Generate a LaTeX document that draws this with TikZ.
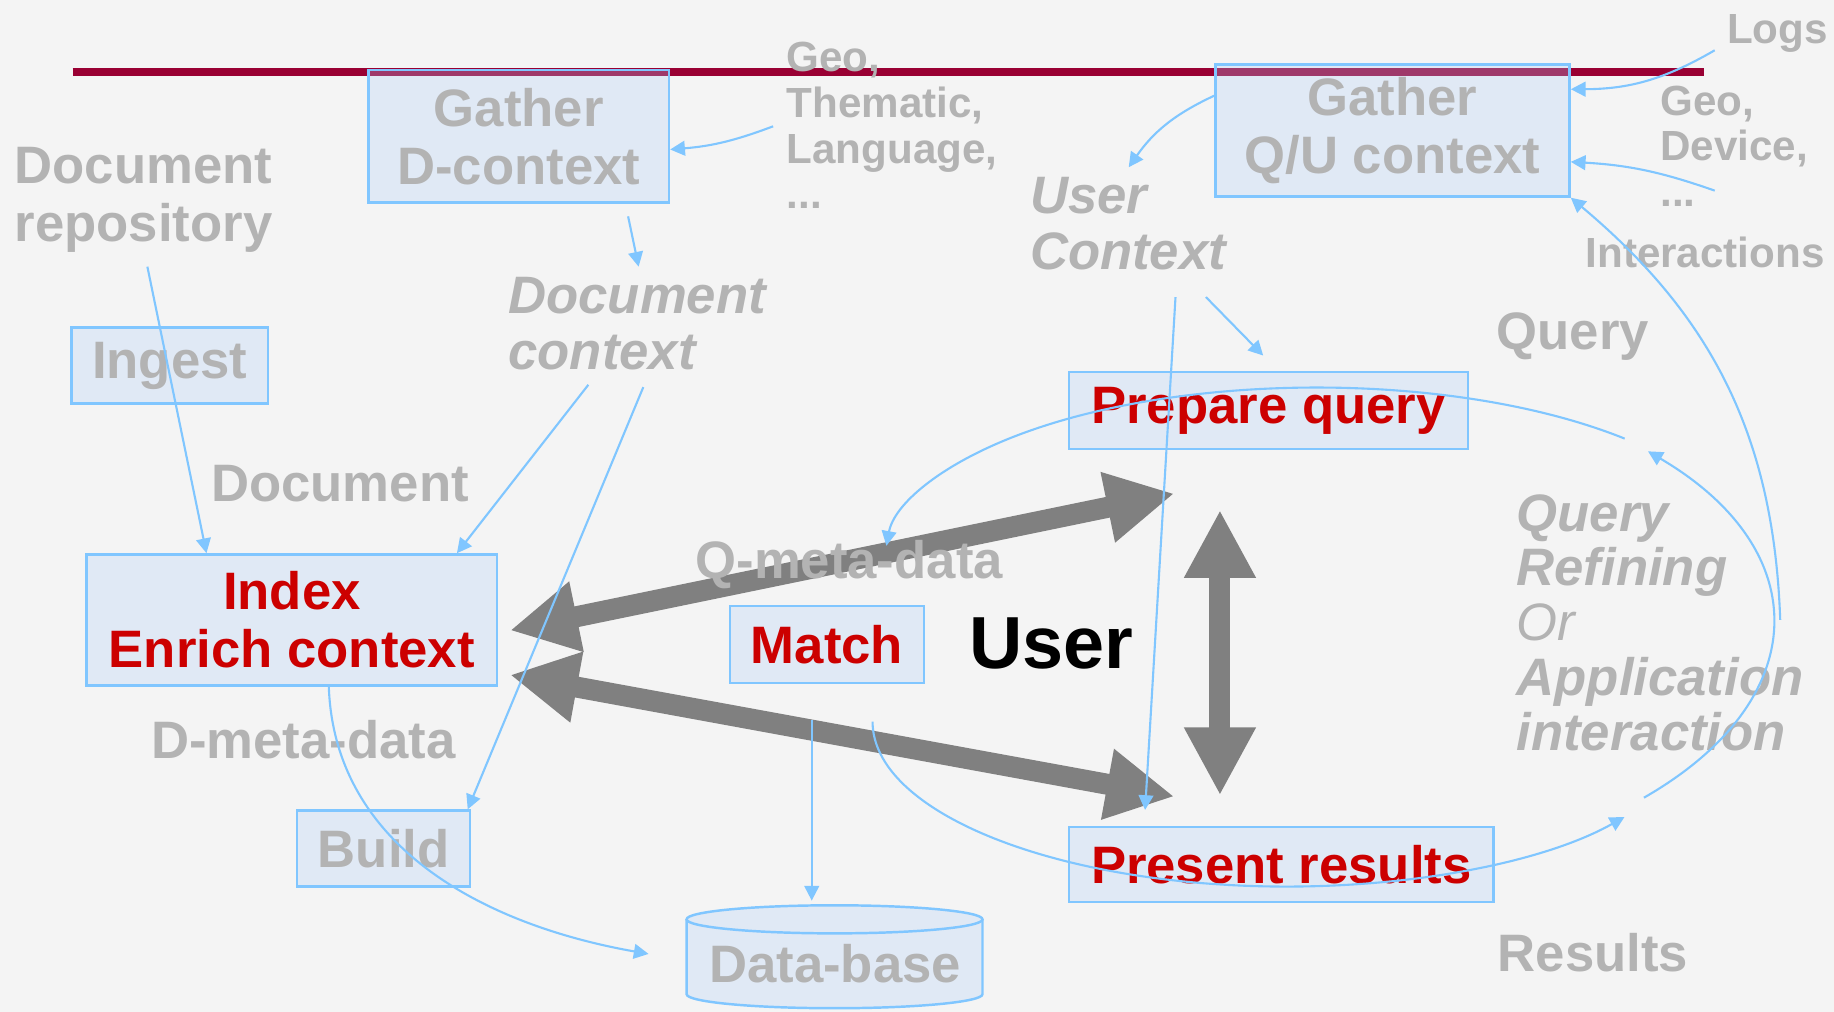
\documentclass[tikz,border=0pt]{standalone}
\usepackage{fontspec}
\setmainfont{Liberation Sans}
\usepackage{xcolor}
\usetikzlibrary{arrows.meta}

\definecolor{bgcol}{RGB}{244,244,244}
\definecolor{barred}{RGB}{153,0,51}
\definecolor{linkblue}{RGB}{128,198,255}
\definecolor{boxblue}{RGB}{175,208,250}
\definecolor{labelgray}{RGB}{179,179,179}
\definecolor{textred}{RGB}{204,0,0}
\definecolor{arrowgray}{RGB}{128,128,128}

\begin{document}
\begin{tikzpicture}[x = 0.011696cm, y = 0.011696cm,
		box/.style = {draw = linkblue, line width = 0.7pt, fill = boxblue, fill opacity = 0.28, text opacity = 1, inner sep = 0, align = center, text = labelgray, font = \fontsize{15}{16.5}\selectfont\bfseries},
		redbox/.style = {box, text = textred},
		lbl/.style = {inner sep = 0, anchor = north west, align = left, text = labelgray, font = \fontsize{15}{16.5}\selectfont\bfseries},
		lblsmall/.style = {lbl, font = \fontsize{12}{13}\selectfont\bfseries},
		lblit/.style = {lbl, font = \fontsize{15}{16}\selectfont\bfseries\itshape},
		link/.style = {draw = linkblue, line width = 0.6pt, -{Triangle[length = 4.2pt, width = 4.2pt]}},
		bigarrow/.style = {draw = arrowgray, line width = 0.21cm, {Triangle[length = 0.68cm, width = 0.67cm]}-{Triangle[length = 0.68cm, width = 0.67cm]}}]
			\fill [bgcol] (0,0) rectangle (1568,865);
			\useasboundingbox (0,0) rectangle (1568,865);

			\draw [barred, line width = 0.075cm] (62,803.4) -- (1457,803.4);

			\begin{scope}
				\node [box, minimum width = 3.006cm, minimum height = 1.322cm] (gatherd) at (443.5,748.5) {Gather\\D-context};
				\node [box, minimum width = 3.544cm, minimum height = 1.322cm] (gatherqu) at (1190.5,753.5) {Gather\\Q/U context};
				\node [box, minimum width = 1.965cm, minimum height = 0.760cm] (ingest) at (145,552.5) {Ingest};
				\node [redbox, minimum width = 4.105cm, minimum height = 1.310cm] (index) at (249.5,335) {Index\\Enrich context};
				\node [box, minimum width = 1.731cm, minimum height = 0.760cm] (build) at (328,139.5) {Build};
				\node [redbox, minimum width = 1.942cm, minimum height = 0.772cm] (match) at (707,314) {Match};
				\node [redbox, minimum width = 3.988cm, minimum height = 0.772cm] (prepare) at (1084.5,514) {Prepare query};
				\node [redbox, minimum width = 4.246cm, minimum height = 0.749cm] (present) at (1095.5,126) {Present results};
			\end{scope}

			\begin{scope}
				\fill [boxblue, opacity = 0.28] (587,79) -- (587,15) arc [start angle = 180, end angle = 360, x radius = 126.5, y radius = 12] -- (840,79) arc [start angle = 0, end angle = 180, x radius = 126.5, y radius = 12];
				\draw [linkblue, line width = 0.7pt] (587,79) -- (587,15) arc [start angle = 180, end angle = 360, x radius = 126.5, y radius = 12] -- (840,79);
				\draw [linkblue, line width = 0.7pt] (713.5,79) ellipse [x radius = 126.5, y radius = 12];
				\node [inner sep = 0, text = labelgray, font = \fontsize{15}{16.5}\selectfont\bfseries] (db) at (714,41) {Data-base};
			\end{scope}

			\coordinate (idxq) at (436,326);
			\coordinate (userq) at (1004,443);
			\coordinate (idxr) at (436,288);
			\coordinate (userr) at (1004,184);
			\coordinate (usertop) at (1043,429);
			\coordinate (userbot) at (1043,185);

			\foreach \a/\b in {idxq/userq, idxr/userr, usertop/userbot}
			{
				\draw [bigarrow] (\a) -- (\b);
			}

			\begin{scope}
				\node [lbl] (docrepo) at (12,739.6) {Document\\repository};
				\node [lblsmall] (geoleft) at (672,829.4) {Geo,\\Thematic,\\Language,\\...};
				\node [lblsmall] (logs) at (1476,853.6) {Logs};
				\node [lblsmall] (georight) at (1419,792.3) {Geo,\\Device,\\...};
				\node [lblsmall] (interact) at (1355,663.2) {Interactions};
				\node [lblit] (usercontext) at (880,714) {User\\Context};
				\node [lblit] (doccontext) at (434,628.5) {Document\\context};
				\node [lbl] (document) at (180,468) {Document};
				\node [lbl] (dmeta) at (128.5,249.4) {D-meta-data};
				\node [lbl] (qmeta) at (594,403.3) {Q-meta-data};
				\node [lbl, text = black, font = \fontsize{21}{23}\selectfont\bfseries] (user) at (828,337.8) {User};
				\node [lbl] (query) at (1279,598) {Query};
				\node [lbl] (results) at (1280,67.3) {Results};
				\node [lblit, font = \fontsize{15}{15.6}\selectfont\bfseries\itshape] (refine) at (1296,443) {Query\\Refining\\{\mdseries Or}\\Application\\interaction};
			\end{scope}

			\coordinate (repoout) at (126,637);
			\coordinate (ctxl) at (503,536);
			\coordinate (ctxr) at (550,534);
			\coordinate (gathdout) at (537,680);
			\coordinate (ctxin) at (546,637);
			\coordinate (geoout) at (661,757);
			\coordinate (ucin) at (965,722);
			\coordinate (logsout) at (1466,822);
			\coordinate (geo2out) at (1466,702);
			\coordinate (refout) at (1522,335);
			\coordinate (ucdown) at (1005,611);
			\coordinate (ucprep) at (1031,611);
			\coordinate (presin) at (979,172.5);
			\coordinate (prepin) at (1080,561);
			\coordinate (matchout) at (746,248);
			\coordinate (dbleft) at (554.5,49.4);
			\coordinate (matchdown) at (694,249);
			\coordinate (dbtop) at (694,95);
			\coordinate (refinelow) at (1405.5,183);
			\coordinate (prepout) at (1389,490);

			\begin{scope}
				\draw [link] (repoout) -- (index.142);
				\draw [link] (ctxl) -- (index.22);
				\draw [link] (ctxr) -- (build.25);
				\draw [link] (gathdout) -- (ctxin);
				\draw [link] (geoout) to [bend left = 8] (gatherd.-5);
				\draw [link] (gatherqu.169) to [out = 205, in = 55] (ucin);
				\draw [link] (logsout) to [bend left = 15] (gatherqu.13);
				\draw [link] (geo2out) to [bend right = 8] (gatherqu.-10);
				\draw [link] (refout) to [out = 92, in = -40] (gatherqu.south east);
				\draw [link] (ucdown) -- (presin);
				\draw [link] (ucprep) -- (prepin);
				\draw [link] (index.-61) to [out = -88, in = 170] (dbleft);
				\draw [link] (matchdown) -- (dbtop);
				\draw [link] (matchout) arc [start angle = 180, end angle = 324.7, x radius = 354, y radius = 141];
				\draw [link] (prepout) arc [start angle = 44.5, end angle = 175.8, x radius = 369, y radius = 146];
				\draw [link] (refinelow) arc [start angle = -42.7, end angle = 42, x radius = 415.6, y radius = 219.8];
			\end{scope}
		\end{tikzpicture}
\end{document}
